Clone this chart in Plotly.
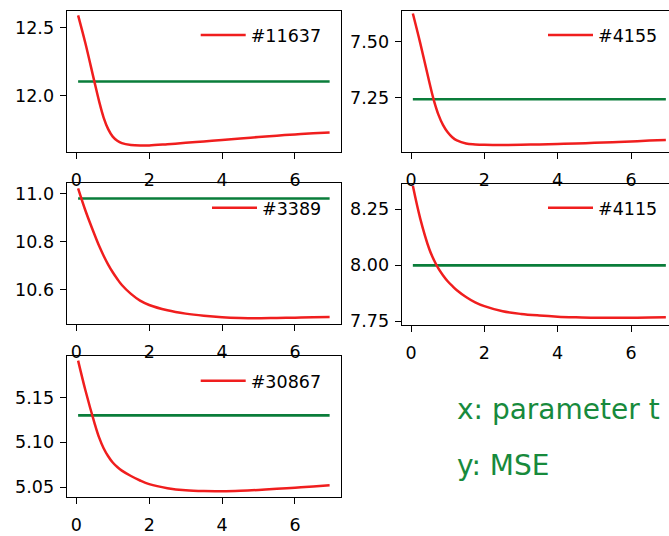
import plotly.graph_objects as go

# ---------------- data ----------------
t = [0.05, 0.25, 0.5, 0.625, 0.75, 0.875, 1.0, 1.125, 1.25, 1.5, 1.75, 2.0,
     2.5, 3.0, 3.5, 4.0, 4.5, 5.0, 5.5, 6.0, 6.5, 6.95]

labels = ["#11637", "#4155", "#3389", "#4115", "#30867"]

mse_11637 = [12.59, 12.385, 12.10, 11.96, 11.84, 11.755, 11.70, 11.67, 11.652, 11.638, 11.634,
             11.635, 11.644, 11.654, 11.664, 11.675, 11.686, 11.697, 11.707, 11.716, 11.724, 11.73]
mse_4155 = [7.625, 7.494, 7.318, 7.236, 7.172, 7.126, 7.094, 7.072, 7.058, 7.044, 7.040,
            7.038, 7.037, 7.038, 7.040, 7.042, 7.044, 7.047, 7.050, 7.053, 7.057, 7.060]
mse_3389 = [11.022, 10.93, 10.83, 10.783, 10.742, 10.705, 10.673, 10.645, 10.62, 10.583, 10.555,
            10.537, 10.515, 10.501, 10.492, 10.486, 10.483, 10.482, 10.483, 10.484, 10.486, 10.487]
mse_4115 = [8.355, 8.21, 8.072, 8.024, 7.985, 7.955, 7.929, 7.908, 7.889, 7.859, 7.835,
            7.818, 7.795, 7.783, 7.776, 7.771, 7.768, 7.766, 7.766, 7.766, 7.767, 7.768]
mse_30867 = [5.191, 5.158, 5.1215, 5.1055, 5.0935, 5.0845, 5.0775, 5.0725, 5.0685, 5.0625, 5.0575,
             5.0535, 5.0490, 5.0466, 5.0457, 5.0456, 5.0461, 5.0470, 5.0482, 5.0495, 5.0509, 5.0522]

baseline = [12.105, 7.242, 10.98, 8.00, 5.13]

xtick_vals = [0, 2, 4, 6]
ytick_vals = [[12.0, 12.5], [7.25, 7.50], [10.6, 10.8, 11.0], [7.75, 8.00, 8.25], [5.05, 5.10, 5.15]]
ytick_fmt = [".1f", ".2f", ".1f", ".2f", ".2f"]

note_lines = ["x: parameter t", "y: MSE"]

series = [mse_11637, mse_4155, mse_3389, mse_4115, mse_30867]

# ---------------- layout / style ----------------
W, H = 669, 536
FONT = "DejaVu Sans"
RED = "#f01e1e"
GREEN = "#0a7d3a"
TEXT_GREEN = "#178a3c"
FS = 17.5

# pixel boxes of each panel: (left, right, top, bottom)
boxes = [(66.7, 340.7, 11.0, 154.0),
         (401.7, 669.0, 11.0, 154.0),
         (66.7, 340.7, 185.5, 328.5),
         (401.7, 669.0, 186.5, 329.0),
         (66.7, 340.7, 360.3, 503.7)]
xranges = [[-0.263, 7.254], [-0.254, 7.036], [-0.263, 7.254], [-0.254, 7.036], [-0.263, 7.254]]
yranges = [[11.587, 12.623], [7.006, 7.637], [10.457, 11.044], [7.735, 8.363], [5.039, 5.1966]]
# legend line-start pixel (x, y centre)
legpos = [(196.7, 35.7), (544.0, 35.7), (208.0, 210.7), (544.0, 210.7), (196.7, 386.0)]

fig = go.Figure()
layout = dict(width=W, height=H, margin=dict(l=0, r=0, t=0, b=0),
              paper_bgcolor="white", plot_bgcolor="white",
              font=dict(family=FONT, size=FS, color="black"))

for i, (vals, lab) in enumerate(zip(series, labels)):
    k = "" if i == 0 else str(i + 1)
    legname = "legend" + k
    fig.add_trace(go.Scatter(x=[t[0], t[-1]], y=[baseline[i], baseline[i]], mode="lines",
                             line=dict(color=GREEN, width=2.6), showlegend=False,
                             xaxis="x" + k, yaxis="y" + k, hoverinfo="skip"))
    fig.add_trace(go.Scatter(x=t, y=vals, mode="lines", name=lab,
                             line=dict(color=RED, width=2.5, shape="spline", smoothing=1.0),
                             xaxis="x" + k, yaxis="y" + k, legend=legname))
    l, r, tp, bt = boxes[i]
    right_col = i % 2 == 1
    layout["xaxis" + k] = dict(domain=[l / W, r / W], range=xranges[i], anchor="y" + k,
                               tickvals=xtick_vals, ticks="outside", ticklen=6, tickwidth=1.3,
                               tickcolor="black", showline=True, linecolor="black", linewidth=1.3,
                               mirror=True, showgrid=False, zeroline=False, ticklabelstandoff=6,
                               tickfont=dict(family=FONT, size=FS, color="black"))
    layout["yaxis" + k] = dict(domain=[1 - bt / H, 1 - tp / H], range=yranges[i], anchor="x" + k,
                               tickvals=ytick_vals[i], tickformat=ytick_fmt[i],
                               ticks="outside", ticklen=6, tickwidth=1.3, tickcolor="black",
                               showline=True, linecolor="black", linewidth=1.3,
                               mirror=(not right_col), showgrid=False, zeroline=False,
                               ticklabelstandoff=2,
                               tickfont=dict(family=FONT, size=FS, color="black"))
    lx, ly = legpos[i]
    layout[legname] = dict(x=(lx - 1) / W, y=1 - ly / H, xanchor="left", yanchor="middle",
                           bgcolor="rgba(0,0,0,0)", borderwidth=0,
                           font=dict(family=FONT, size=FS, color="black"), itemwidth=45)

fig.update_layout(**layout)

note_y = [415, 472]
for txt, yy in zip(note_lines, note_y):
    fig.add_annotation(text=txt, xref="paper", yref="paper", x=455 / W, y=1 - yy / H,
                       xanchor="left", yanchor="middle", showarrow=False,
                       font=dict(family=FONT, size=28, color=TEXT_GREEN))

fig.write_html("out.html", config={"displayModeBar": False},
               post_script="document.body.style.margin='0';")
